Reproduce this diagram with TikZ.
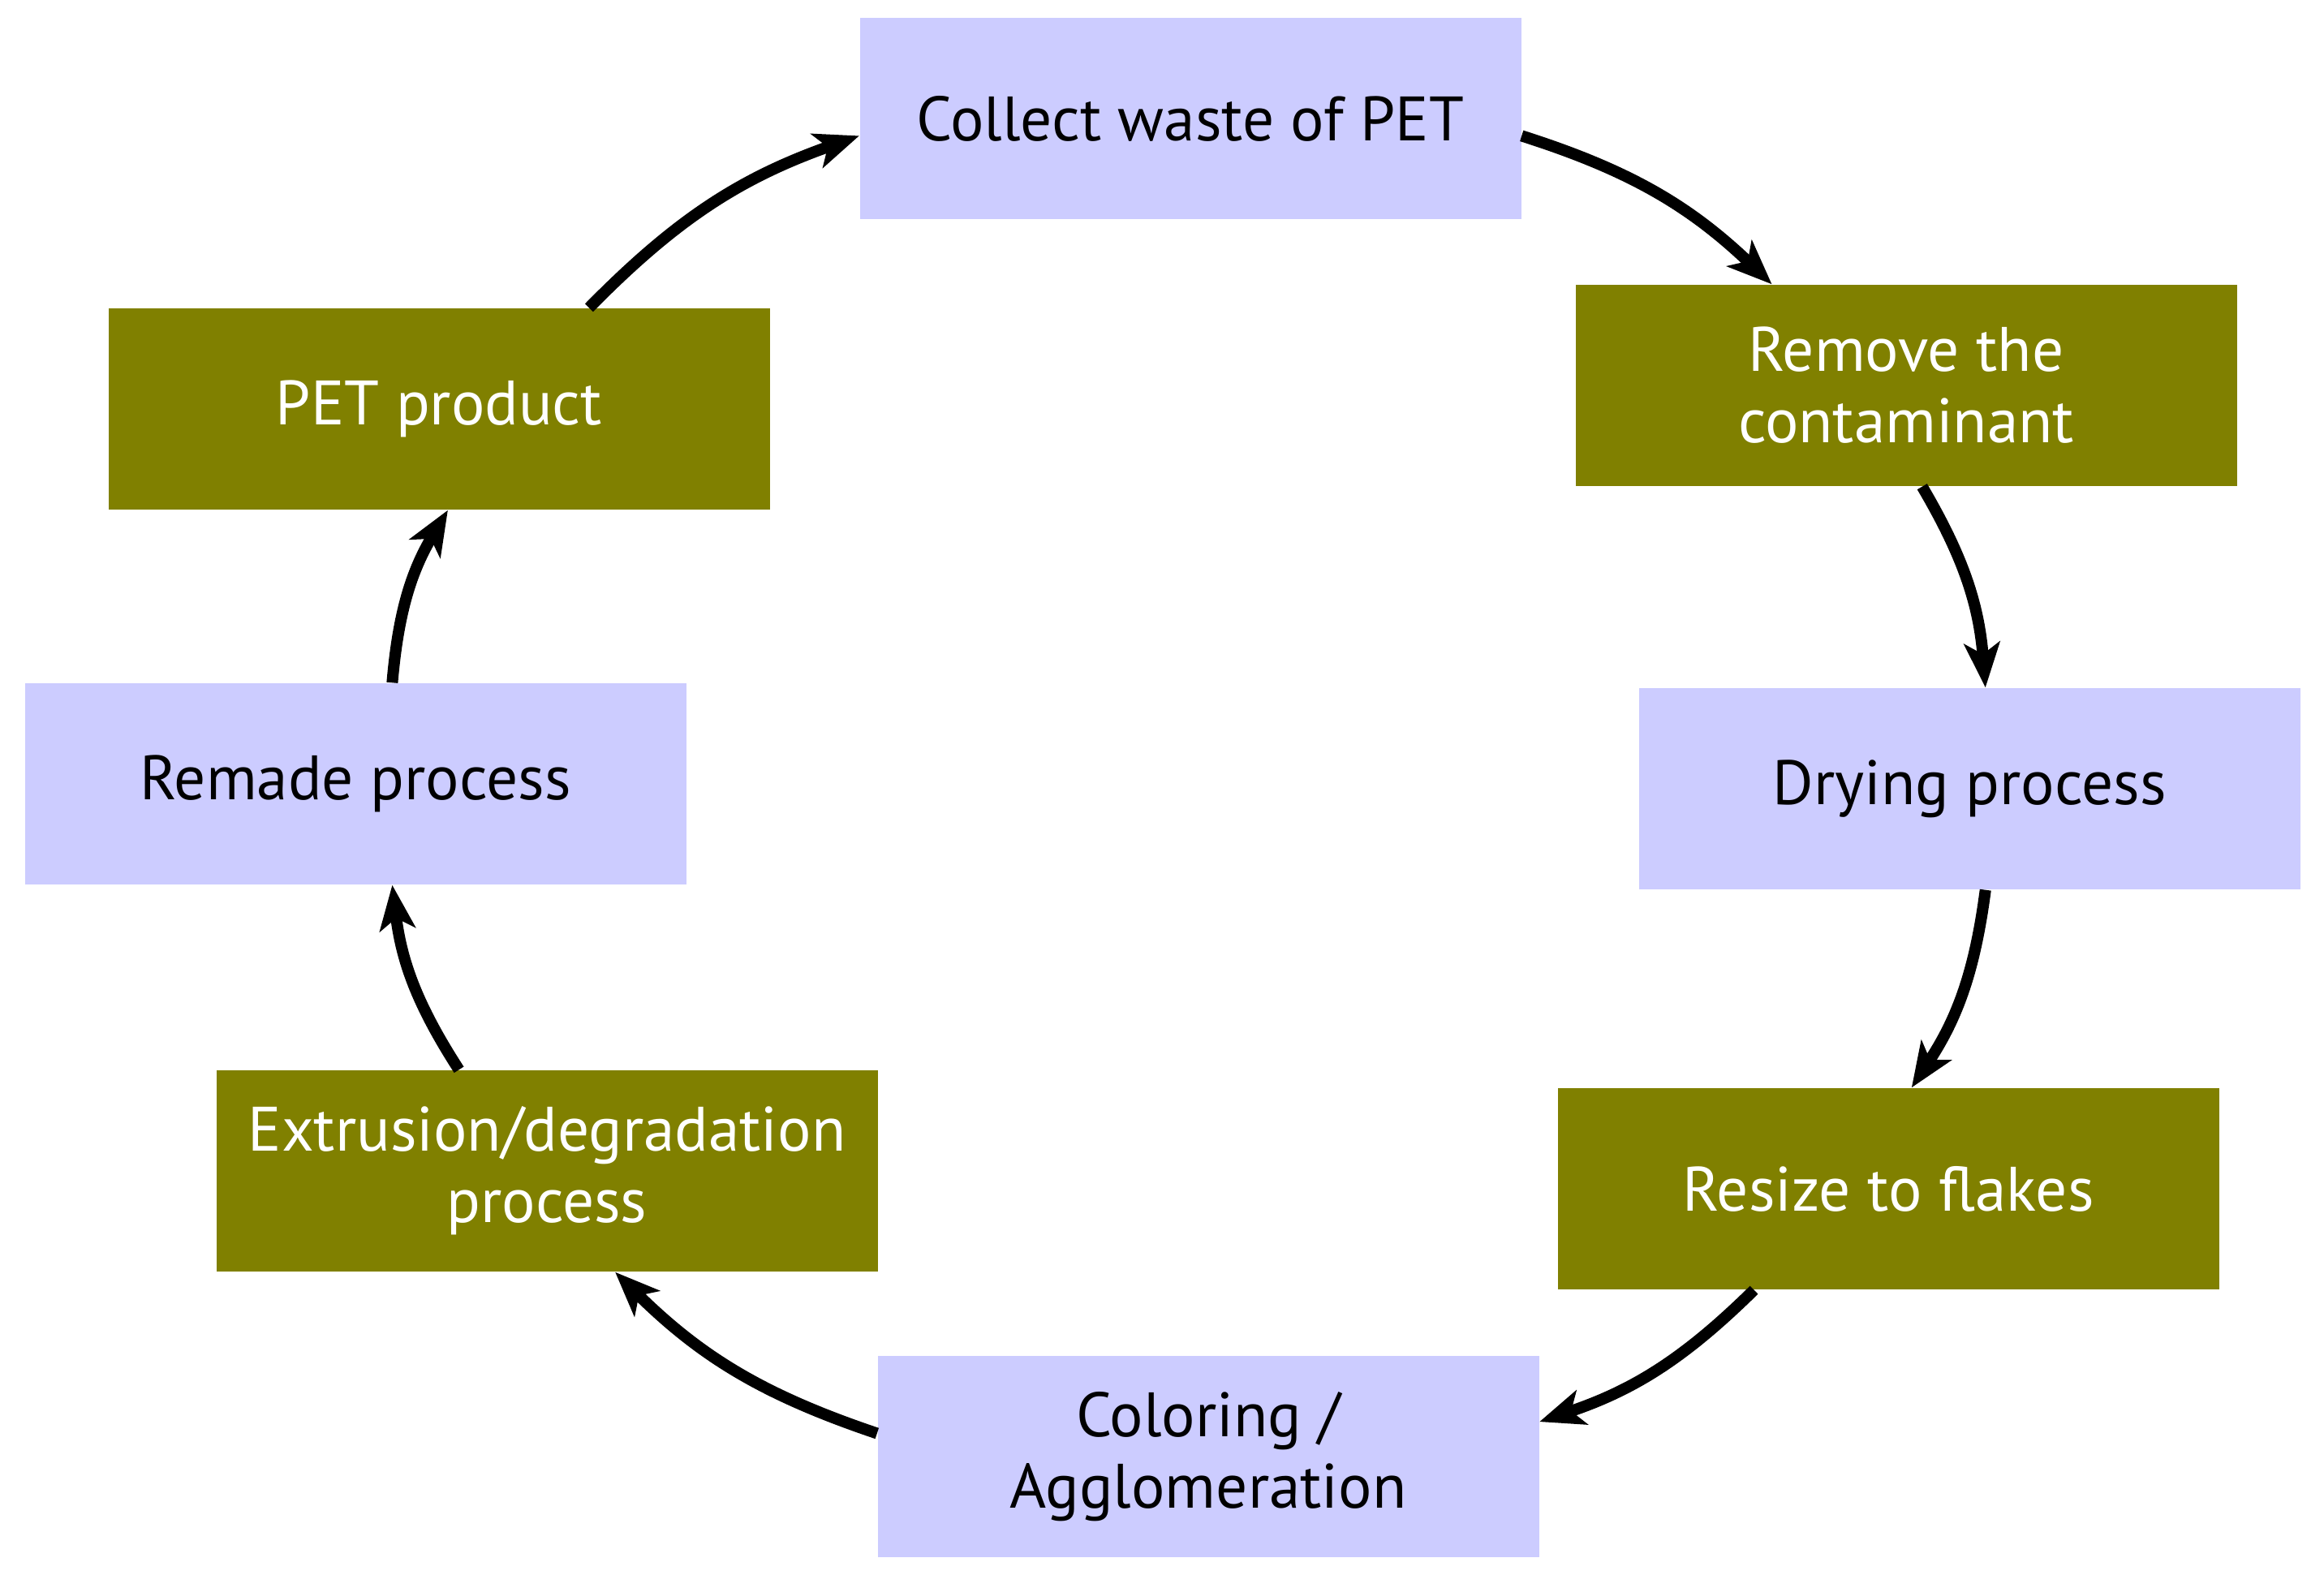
\documentclass[tikz,border=0pt]{standalone}
\usepackage{fontspec}
\setmainfont{PT Sans}
\definecolor{cLav}{HTML}{CCCCFF}
\definecolor{cOlive}{HTML}{808000}
\usetikzlibrary{arrows.meta}

\begin{document}
\begin{tikzpicture}[
		box/.style={rectangle, minimum width=8.15cm, minimum height=2.48cm, inner sep=0pt, align=center,
			font=\fontsize{22}{25}\selectfont},
		lav/.style={box, fill=cLav, text=black},
		olive/.style={box, fill=cOlive, text=white},
		flow/.style={line width=4pt, -{Stealth[length=0.55cm, width=0.44cm, inset=0.14cm]}, bend left=13}
	]
		\useasboundingbox (0,0) rectangle (28.64,19.56);
		\node[lav] (collect) at (14.67,18.10) {Collect waste of PET};
		\node[olive] (remove) at (23.49,14.81) {Remove the\\contaminant};
		\node[lav] (drying) at (24.27,9.84) {Drying process};
		\node[olive] (resize) at (23.27,4.91) {Resize to flakes};
		\node[lav] (coloring) at (14.89,1.61) {Coloring /\\Agglomeration};
		\node[olive] (extrusion) at (6.74,5.13) {Extrusion/degradation\\process};
		\node[lav] (remade) at (4.38,9.90) {Remade process};
		\node[olive] (product) at (5.41,14.52) {PET product};
		% the cycle
		\draw[flow] (collect.-3) to (remove.143);
		\draw[flow] (remove.-81) to (drying.81);
		\draw[flow] (drying.-81) to (resize.77);
		\draw[flow] (resize.-143) to (coloring.6);
		\draw[flow] (coloring.176) to (extrusion.-56);
		\draw[flow] (extrusion.131) to (remade.-70);
		\draw[flow] (remade.70) to (product.-85);
		\draw[flow] (product.34) to (collect.183);
\end{tikzpicture}
\end{document}
